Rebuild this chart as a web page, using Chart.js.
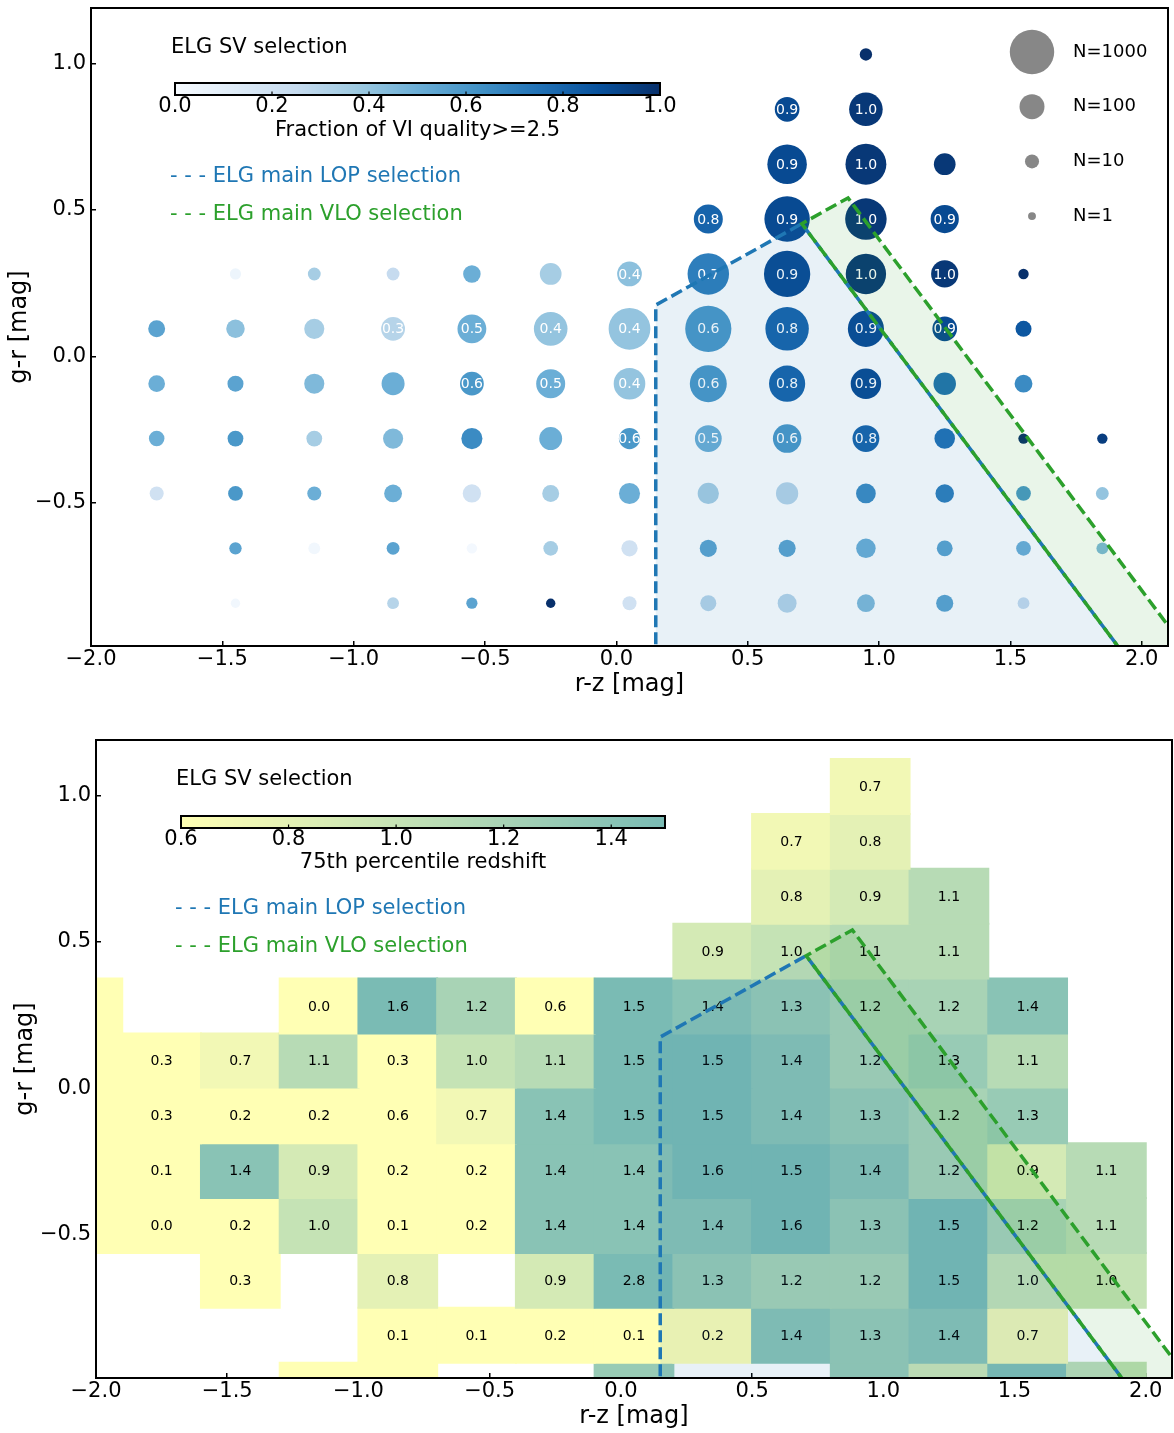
<!DOCTYPE html>
<html lang="en">
<head>
<meta charset="UTF-8">
<title>ELG SV selection</title>
<script src="https://cdn.jsdelivr.net/npm/chart.js"></script>
<style>
    body { margin: 0; background: #fff; }
    canvas { position: absolute; left: 0; }
    #topChart { top: 0; }
    #bottomChart { top: 716px; }
</style>
</head>
<body>
<canvas id="topChart" width="1174" height="716"></canvas>
<canvas id="bottomChart" width="1174" height="717"></canvas>
<script>
// ---- bins (r-z columns, g-r rows, bottom to top) ----
const rzCenters = [-1.75, -1.45, -1.15, -0.85, -0.55, -0.25, 0.05, 0.35, 0.65, 0.95, 1.25, 1.55, 1.85];
const grCenters = [-0.84375, -0.65625, -0.46875, -0.28125, -0.09375, 0.09375, 0.28125, 0.46875, 0.65625, 0.84375, 1.03125];

// ---- top panel: fraction of VI quality>=2.5 per bin ----
const fracRows = [
    [null, 0.03, null, 0.30, 0.55, 1.00, 0.20, 0.30, 0.30, 0.45, 0.55, 0.25, null],
    [null, 0.55, 0.03, 0.55, 0.02, 0.35, 0.20, 0.55, 0.55, 0.50, 0.55, 0.50, 0.45],
    [0.20, 0.60, 0.50, 0.50, 0.20, 0.35, 0.50, 0.35, 0.30, 0.65, 0.70, 0.60, 0.40],
    [0.50, 0.60, 0.35, 0.45, 0.65, 0.50, 0.60, 0.50, 0.60, 0.80, 0.75, 1.00, 0.95],
    [0.50, 0.55, 0.45, 0.50, 0.60, 0.50, 0.40, 0.60, 0.80, 0.90, 0.75, 0.65, null],
    [0.55, 0.42, 0.35, 0.30, 0.50, 0.40, 0.40, 0.60, 0.80, 0.90, 0.90, 0.85, null],
    [null, 0.05, 0.35, 0.25, 0.50, 0.35, 0.42, 0.70, 0.90, 0.97, 0.97, 1.00, null],
    [null, null, null, null, null, null, null, 0.80, 0.90, 0.97, 0.90, null, null],
    [null, null, null, null, null, null, null, null, 0.90, 0.97, 0.97, null, null],
    [null, null, null, null, null, null, null, null, 0.90, 0.97, null, null, null],
    [null, null, null, null, null, null, null, null, null, 1.00, null, null, null]
];
// number of objects per bin
const countRows = [
    [null, 2, null, 5, 4, 2, 10, 17, 33, 26, 22, 5, null],
    [null, 6, 5, 7, 3, 12, 18, 22, 22, 37, 16, 12, 5],
    [10, 12, 10, 26, 29, 21, 51, 52, 63, 39, 30, 12, 7],
    [15, 16, 16, 42, 51, 71, 52, 133, 168, 133, 46, 3, 3],
    [20, 17, 42, 72, 82, 182, 257, 480, 440, 220, 66, 26, null],
    [21, 30, 42, 83, 178, 330, 780, 1170, 915, 440, 95, 17, null],
    [null, 4, 7, 7, 24, 57, 95, 760, 1180, 680, 140, 3, null],
    [null, null, null, null, null, null, null, 182, 1093, 760, 163, null, null],
    [null, null, null, null, null, null, null, null, 625, 717, 57, null, null],
    [null, null, null, null, null, null, null, null, 95, 326, null, null, null],
    [null, null, null, null, null, null, null, null, null, 6, null, null, null]
];
// bins that carry a printed value
const labelRows = [
    [0, 0, 0, 0, 0, 0, 0, 0, 0, 0, 0, 0, 0],
    [0, 0, 0, 0, 0, 0, 0, 0, 0, 0, 0, 0, 0],
    [0, 0, 0, 0, 0, 0, 0, 0, 0, 0, 0, 0, 0],
    [0, 0, 0, 0, 0, 0, 1, 1, 1, 1, 0, 0, 0],
    [0, 0, 0, 0, 1, 1, 1, 1, 1, 1, 0, 0, 0],
    [0, 0, 0, 1, 1, 1, 1, 1, 1, 1, 1, 0, 0],
    [0, 0, 0, 0, 0, 0, 1, 1, 1, 1, 1, 0, 0],
    [0, 0, 0, 0, 0, 0, 0, 1, 1, 1, 1, 0, 0],
    [0, 0, 0, 0, 0, 0, 0, 0, 1, 1, 0, 0, 0],
    [0, 0, 0, 0, 0, 0, 0, 0, 1, 1, 0, 0, 0],
    [0, 0, 0, 0, 0, 0, 0, 0, 0, 0, 0, 0, 0]
];
const legendN = [1000, 100, 10, 1];

// ---- bottom panel: 75th percentile redshift ----
const heatRz = [-2.05, -1.75, -1.45, -1.15, -0.85, -0.55, -0.25, 0.05, 0.35, 0.65, 0.95, 1.25, 1.55, 1.85];
const heatGr = [-1.03125, -0.84375, -0.65625, -0.46875, -0.28125, -0.09375, 0.09375, 0.28125, 0.46875, 0.65625, 0.84375, 1.03125];
const z75Rows = [
    [null, null, null, 0.3, 0.3, null, null, 1.3, null, null, 1.3, 0.95, 1.45, 1.05],
    [null, null, null, null, 0.1, 0.1, 0.2, 0.1, 0.2, 1.4, 1.3, 1.4, 0.7, null],
    [null, null, 0.3, null, 0.8, null, 0.9, 2.8, 1.3, 1.2, 1.2, 1.5, 1.0, 1.0],
    [0.2, 0.0, 0.2, 1.0, 0.1, 0.2, 1.4, 1.4, 1.4, 1.6, 1.3, 1.5, 1.2, 1.1],
    [0.2, 0.1, 1.4, 0.9, 0.2, 0.2, 1.4, 1.4, 1.6, 1.5, 1.4, 1.2, 0.9, 1.1],
    [0.2, 0.3, 0.2, 0.2, 0.6, 0.7, 1.4, 1.5, 1.5, 1.4, 1.3, 1.2, 1.3, null],
    [0.2, 0.3, 0.7, 1.1, 0.3, 1.0, 1.1, 1.5, 1.5, 1.4, 1.2, 1.3, 1.1, null],
    [0.2, null, null, 0.0, 1.6, 1.2, 0.6, 1.5, 1.4, 1.3, 1.2, 1.2, 1.4, null],
    [null, null, null, null, null, null, null, null, 0.9, 1.0, 1.1, 1.1, null, null],
    [null, null, null, null, null, null, null, null, null, 0.8, 0.9, 1.1, null, null],
    [null, null, null, null, null, null, null, null, null, 0.7, 0.8, null, null, null],
    [null, null, null, null, null, null, null, null, null, null, 0.7, null, null, null]
];

// ---- selection boundaries (r-z, g-r vertices) ----
const lopX = [0.15, 0.15, 0.706, 2.0];
const lopY = [-1.1, 0.175, 0.453, -1.1];
const vloX = [2.0, 0.706, 0.882, 2.25];
const vloY = [-1.1, 0.453, 0.541, -1.1];

// ---- axis ticks ----
const xTicks = [-2.0, -1.5, -1.0, -0.5, 0.0, 0.5, 1.0, 1.5, 2.0];
const yTicks = [-0.5, 0.0, 0.5, 1.0];
const fracTicks = [0.0, 0.2, 0.4, 0.6, 0.8, 1.0];
const zTicks = [0.6, 0.8, 1.0, 1.2, 1.4];

// colour maps
const BLUES = [[247,251,255],[222,235,247],[198,219,239],[158,202,225],[107,174,214],[66,146,198],[33,113,181],[8,81,156],[8,48,107]];
const HEAT = [[255,255,180],[236,245,181],[212,234,181],[190,223,181],[168,211,181],[144,199,181],[122,187,180]];
function ramp(stops, t) {
    t = Math.min(1, Math.max(0, t));
    const p = t * (stops.length - 1);
    const i = Math.min(Math.floor(p), stops.length - 2);
    const f = p - i;
    const c = stops[i].map((v, k) => Math.round(v + (stops[i + 1][k] - v) * f));
    return 'rgb(' + c.join(',') + ')';
}
const blues = v => ramp(BLUES, v);
const heat = v => ramp(HEAT, (v - 0.6) / 0.9);
const sizeOf = n => 3.95 * Math.pow(n, 0.25);
const fmt = v => (v < 0 ? '\u2212' : '') + Math.abs(v).toFixed(1);
const pts = (xs, ys) => xs.map((x, i) => ({x: x, y: ys[i]}));

Chart.defaults.font.family = "'DejaVu Sans', sans-serif";
Chart.defaults.color = '#000';

// build bubbles
const bubblePts = [], bubbleColors = [], bubbleText = [];
fracRows.forEach((row, i) => row.forEach((f, j) => {
    if (f === null) return;
    bubblePts.push({x: rzCenters[j], y: grCenters[i], r: sizeOf(countRows[i][j])});
    bubbleColors.push(blues(f));
    if (labelRows[i][j]) bubbleText.push({x: rzCenters[j], y: grCenters[i], text: f.toFixed(1)});
}));

// build heat cells
const halfH = (heatGr[1] - heatGr[0]) / 2;
const heatCells = [], heatColors = [], heatText = [];
z75Rows.forEach((row, i) => row.forEach((v, j) => {
    if (v === null) return;
    heatCells.push({x: heatRz[j], y: [heatGr[i] - halfH, heatGr[i] + halfH]});
    heatColors.push(heat(v));
    heatText.push({x: heatRz[j], y: heatGr[i], text: v.toFixed(1)});
}));

function makeDecor(cfg) {
    return {
        id: 'decor',
        afterDatasetDraw(chart, args) {
            if (args.index !== 0) return;
            const {ctx, chartArea: a, scales: {x, y}} = chart;
            ctx.save();
            ctx.beginPath();
            ctx.rect(a.left, a.top, a.width, a.height);
            ctx.clip();
            ctx.font = '14px "DejaVu Sans"';
            ctx.textAlign = 'center';
            ctx.textBaseline = 'middle';
            ctx.fillStyle = cfg.textColor;
            cfg.texts.forEach(t => {
                if (t.x < x.min || t.x > x.max || t.y < y.min || t.y > y.max) return;
                ctx.fillText(t.text, x.getPixelForValue(t.x), y.getPixelForValue(t.y) + 1);
            });
            // shaded selection regions sit over the data
            [[lopX, lopY, 'rgba(31,119,180,0.1)'], [vloX, vloY, 'rgba(44,160,44,0.1)']].forEach(([xs, ys, c]) => {
                ctx.beginPath();
                xs.forEach((v, i) => ctx.lineTo(x.getPixelForValue(v), y.getPixelForValue(ys[i])));
                ctx.closePath();
                ctx.fillStyle = c;
                ctx.fill();
            });
            ctx.restore();
        },
        afterDraw(chart) {
            const {ctx, chartArea: a} = chart;
            ctx.save();
            ctx.strokeStyle = '#000';
            ctx.lineWidth = 2;
            ctx.strokeRect(a.left, a.top, a.width, a.height);

            ctx.textBaseline = 'middle';
            ctx.textAlign = 'left';
            ctx.fillStyle = '#000';
            ctx.font = '21px "DejaVu Sans"';
            ctx.fillText('ELG SV selection', a.left + 80, a.top + 40);

            // inset colorbar
            const cb = cfg.cbar;
            const bx = a.left + cb.dx, by = a.top + cb.dy;
            for (let i = 0; i < cb.w; i++) {
                ctx.fillStyle = cb.cmap(cb.min + (cb.max - cb.min) * (i + 0.5) / cb.w);
                ctx.fillRect(bx + i, by, 1.5, cb.h);
            }
            ctx.lineWidth = 2;
            ctx.strokeRect(bx, by, cb.w, cb.h);
            ctx.textAlign = 'center';
            ctx.fillStyle = '#000';
            ctx.font = '21px "DejaVu Sans"';
            cb.ticks.forEach(v => {
                const px = bx + (v - cb.min) / (cb.max - cb.min) * cb.w;
                ctx.beginPath();
                ctx.lineWidth = 1.2;
                ctx.moveTo(px, by + cb.h);
                ctx.lineTo(px, by + cb.h - 3.5);
                ctx.stroke();
                ctx.fillText(v.toFixed(1), px, by + cb.h + 12);
            });
            ctx.fillText(cb.label, bx + cb.w / 2, a.top + 123);

            ctx.textAlign = 'left';
            ctx.fillStyle = '#1f77b4';
            ctx.fillText('- - - ELG main LOP selection', a.left + 79, a.top + 169);
            ctx.fillStyle = '#2ca02c';
            ctx.fillText('- - - ELG main VLO selection', a.left + 79, a.top + 207);

            if (cfg.sizeLegend) {
                ctx.font = '18px "DejaVu Sans"';
                legendN.forEach((n, i) => {
                    const cy = a.top + 44 + 54.7 * i;
                    ctx.beginPath();
                    ctx.fillStyle = '#878787';
                    ctx.arc(a.right - 136, cy, sizeOf(n), 0, Math.PI * 2);
                    ctx.fill();
                    ctx.fillStyle = '#000';
                    ctx.fillText('N=' + n, a.right - 95, cy);
                });
            }
            ctx.restore();
        }
    };
}

function xAxis(h, titlePad) {
    return {
        type: 'linear', min: -2.0, max: 2.1, offset: false,
        afterBuildTicks: s => { s.ticks = xTicks.map(v => ({value: v})); },
        afterFit: s => { s.height = h; s.paddingLeft = 0; s.paddingRight = 0; },
        border: {display: false},
        grid: {drawOnChartArea: false, offset: false, tickLength: -5, color: '#000', lineWidth: 1.5},
        ticks: {padding: 6, autoSkip: false, maxRotation: 0, font: {size: 21}, callback: fmt},
        title: {display: true, text: 'r-z [mag]', font: {size: 24}, padding: {top: 0, bottom: titlePad}}
    };
}
function yAxis(w, titlePad) {
    return {
        type: 'linear', min: -0.99, max: 1.19,
        afterBuildTicks: s => { s.ticks = yTicks.map(v => ({value: v})); },
        afterFit: s => { s.width = w; s.paddingTop = 0; s.paddingBottom = 0; },
        border: {display: false},
        grid: {drawOnChartArea: false, tickLength: -5, color: '#000', lineWidth: 1.5},
        ticks: {padding: 10, font: {size: 21}, callback: fmt},
        title: {display: true, text: 'g-r [mag]', font: {size: 24}, padding: {top: titlePad, bottom: 0}}
    };
}
function boundaryLines() {
    return [
        {type: 'line', data: pts(vloX, vloY), borderColor: '#2ca02c', borderWidth: 3.5,
         borderDash: [12, 5], pointRadius: 0, fill: false, tension: 0, order: 0},
        {type: 'line', data: pts(lopX, lopY), borderColor: '#1f77b4', borderWidth: 3.5,
         borderDash: [12, 5], pointRadius: 0, fill: false, tension: 0, order: 1}
    ];
}

new Chart(document.getElementById('topChart'), {
    type: 'bubble',
    data: {
        datasets: [
            {data: bubblePts, backgroundColor: bubbleColors, borderWidth: 0, order: 2}
        ].concat(boundaryLines())
    },
    options: {
        responsive: false, animation: false, devicePixelRatio: 1, events: [],
        layout: {autoPadding: false, padding: {top: 8, right: 6, left: 0, bottom: 0}},
        plugins: {legend: {display: false}, tooltip: {enabled: false}},
        scales: {x: xAxis(70, 17), y: yAxis(91, 5.6)}
    },
    plugins: [makeDecor({
        texts: bubbleText, textColor: '#fff', sizeLegend: true,
        cbar: {dx: 84, dy: 75, w: 485, h: 12, min: 0, max: 1, cmap: blues, ticks: fracTicks,
               label: 'Fraction of VI quality>=2.5'}
    })]
});

new Chart(document.getElementById('bottomChart'), {
    type: 'bar',
    data: {
        datasets: [
            {data: heatCells, backgroundColor: heatColors, borderWidth: 0, inflateAmount: 1,
             barPercentage: 1, categoryPercentage: 1, order: 2}
        ].concat(boundaryLines())
    },
    options: {
        responsive: false, animation: false, devicePixelRatio: 1, events: [],
        layout: {autoPadding: false, padding: {top: 24, right: 2, left: 0, bottom: 0}},
        plugins: {legend: {display: false}, tooltip: {enabled: false}},
        scales: {x: xAxis(55, 2), y: yAxis(96, 11.6)}
    },
    plugins: [makeDecor({
        texts: heatText, textColor: '#000', sizeLegend: false,
        cbar: {dx: 85, dy: 76, w: 484, h: 12, min: 0.6, max: 1.5, cmap: heat, ticks: zTicks,
               label: '75th percentile redshift'}
    })]
});
</script>
</body>
</html>
